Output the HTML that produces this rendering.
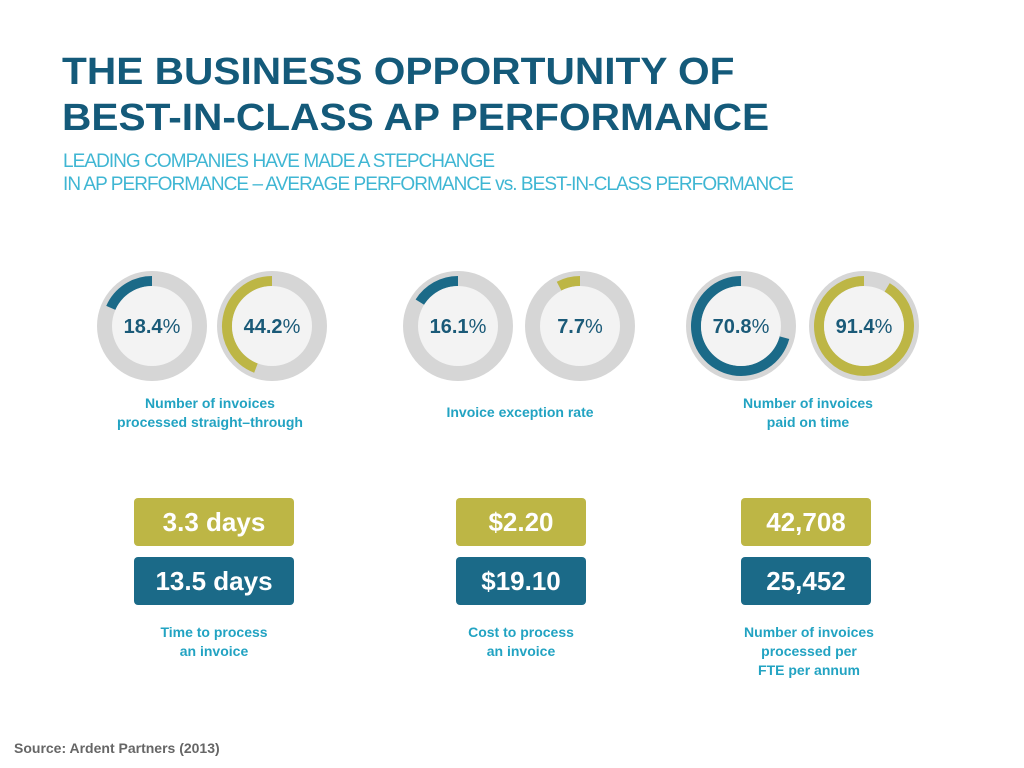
<!DOCTYPE html>
<html><head><meta charset="utf-8"><style>
body{margin:0;width:1024px;height:768px;background:#fff;font-family:"Liberation Sans",sans-serif;position:relative;overflow:hidden}
.t{position:absolute;left:62px;color:#145a7a;font-weight:bold;font-size:38px;line-height:44px;white-space:nowrap;transform:scaleX(1.07);transform-origin:left top}
.s{position:absolute;left:63px;color:#3fb6d3;font-size:19px;line-height:20px;letter-spacing:-0.95px;white-space:nowrap}
.lbl{position:absolute;color:#22a3c2;font-weight:bold;font-size:14px;line-height:19px;text-align:center;width:240px}
.box{position:absolute;width:160px;height:48px;border-radius:4px;color:#fff;font-weight:bold;font-size:26px;line-height:48px;text-align:center}
.src{position:absolute;left:14px;top:740px;color:#666;font-weight:bold;font-size:14px}
</style></head><body>
<div class="t" style="top:50px">THE BUSINESS OPPORTUNITY OF</div>
<div class="t" style="top:96px">BEST-IN-CLASS AP PERFORMANCE</div>
<div class="s" style="top:152px">LEADING COMPANIES HAVE MADE A STEPCHANGE</div>
<div class="s" style="top:175px">IN AP PERFORMANCE – AVERAGE PERFORMANCE vs. BEST-IN-CLASS PERFORMANCE</div>
<svg id="donuts" width="1024" height="768" style="position:absolute;left:0;top:0"></svg>
<div class="lbl" style="left:90px;top:394px">Number of invoices<br>processed straight–through</div>
<div class="lbl" style="left:400px;top:403px">Invoice exception rate</div>
<div class="lbl" style="left:688px;top:394px">Number of invoices<br>paid on time</div>
<div class="box" style="left:134px;top:498px;background:#bdb645">3.3 days</div>
<div class="box" style="left:134px;top:557px;background:#1b6a88">13.5 days</div>
<div class="box" style="left:456px;top:498px;width:130px;background:#bdb645">$2.20</div>
<div class="box" style="left:456px;top:557px;width:130px;background:#1b6a88">$19.10</div>
<div class="box" style="left:741px;top:498px;width:130px;background:#bdb645">42,708</div>
<div class="box" style="left:741px;top:557px;width:130px;background:#1b6a88">25,452</div>
<div class="lbl" style="left:94px;top:623px">Time to process<br>an invoice</div>
<div class="lbl" style="left:401px;top:623px">Cost to process<br>an invoice</div>
<div class="lbl" style="left:689px;top:623px">Number of invoices<br>processed per<br>FTE per annum</div>
<div class="src">Source: Ardent Partners (2013)</div>
<script>
const values=[18.4,44.2,16.1,7.7,70.8,91.4];
const kinds=["avg","best","avg","best","avg","best"];
const centers=[152,272,458,580,741,864];
const svg=document.getElementById('donuts');const NS='http://www.w3.org/2000/svg';
const cy=326;
function mk(t,a){const e=document.createElementNS(NS,t);for(const k in a)e.setAttribute(k,a[k]);svg.appendChild(e);return e;}
values.forEach((v,i)=>{
 const cx=centers[i];const col=kinds[i]==='avg'?'#1b6a88':'#bdb645';
 const g=mk('circle',{cx:cx,cy:cy,r:55,fill:'#d6d6d6'});
 
 
 const r=45,a=v/100*2*Math.PI;
 const x2=cx-r*Math.sin(a),y2=cy-r*Math.cos(a);
 const p=mk('path',{d:`M${cx},${cy-r} A${r},${r} 0 ${v>50?1:0} 0 ${x2},${y2}`,fill:'none',stroke:col,'stroke-width':10});
 
 
 const inner=mk('circle',{cx:cx,cy:cy,r:40,fill:'#f3f3f3'});
 
 
 const t=mk('text',{x:cx,y:cy+7,'text-anchor':'middle','font-family':'Liberation Sans, sans-serif','font-size':20,'font-weight':'bold',fill:'#1a5a78'});
 t.textContent=v.toFixed(1);
 const ts=document.createElementNS(NS,'tspan');ts.setAttribute('font-weight','normal');ts.textContent='%';t.appendChild(ts);
 
 
});
</script>
</body></html>
